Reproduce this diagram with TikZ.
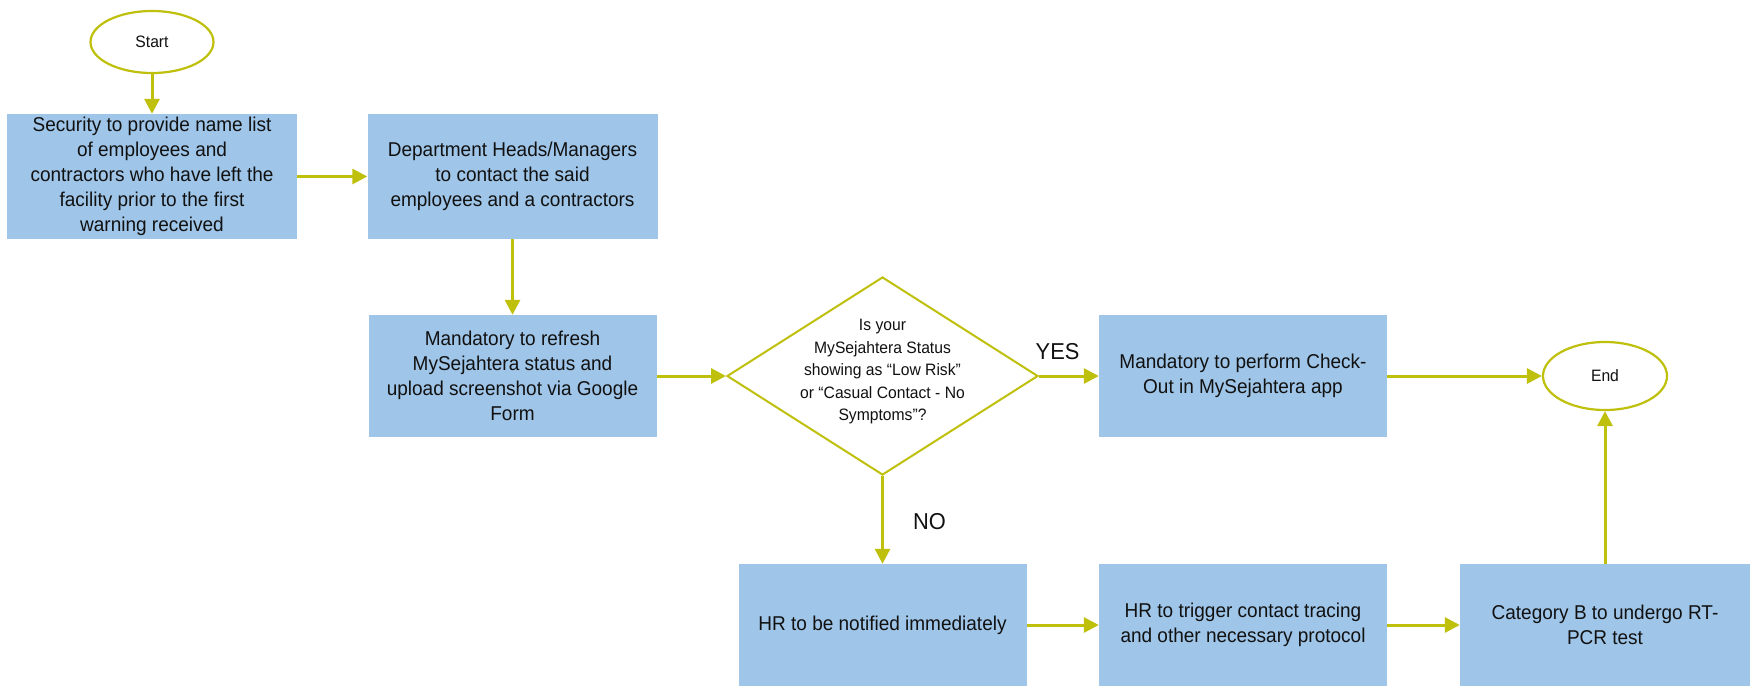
\documentclass[tikz,border=0pt]{standalone}
\usepackage{fontspec}
\setmainfont{Liberation Sans}[FakeStretch=0.95]
\usetikzlibrary{arrows.meta,shapes.geometric}
\definecolor{olivel}{RGB}{190,192,12}
\definecolor{boxblue}{RGB}{159,197,232}
\definecolor{txt}{RGB}{17,17,17}
\begin{document}
\begin{tikzpicture}[x=1pt,y=-1pt,
  boxn/.style={rectangle, fill=boxblue, minimum width=288pt, minimum height=122pt, inner sep=0pt,
    align=center, text=txt, font=\fontsize{20}{25}\selectfont},
  topbox/.style={boxn, minimum width=290pt, minimum height=125pt},
  term/.style={ellipse, draw=olivel, line width=2.2pt, fill=white, minimum width=123pt, minimum height=62pt,
    inner sep=0pt, text=txt, font=\fontsize{16.5}{20}\selectfont},
  dia/.style={diamond, draw=olivel, line width=2pt, minimum width=311pt, minimum height=198pt, inner sep=0pt},
  arr/.style={draw=olivel, line width=3pt, -{Triangle[length=15pt,width=15pt]}},
  lab/.style={text=txt, font=\fontsize{23}{27}\selectfont}
]
\useasboundingbox (0,0) rectangle (1750,686);

\node[term] (start) at (152,42) {Start};
\node[topbox] (b1) at (152,176.5) {Security to provide name list\\of employees and\\contractors who have left the\\facility prior to the first\\warning received};
\node[topbox] (b2) at (512.5,176.5) {Department Heads/Managers\\to contact the said\\employees and a contractors};
\node[boxn] (b3) at (512.5,376) {Mandatory to refresh\\MySejahtera status and\\upload screenshot via Google\\Form};
\node[dia] (dec) at (882.5,376) {};
\node[text=txt, align=center, font=\fontsize{16.5}{22.5}\selectfont] (dect) at (882.5,372) {Is your\\MySejahtera Status\\showing as “Low Risk”\\or “Casual Contact - No\\Symptoms”?};
\node[boxn] (b4) at (1243,376) {Mandatory to perform Check-\\Out in MySejahtera app};
\node[term, minimum width=124pt, minimum height=68pt] (end) at (1605,376) {End};
\node[boxn] (b5) at (882.5,625) {HR to be notified immediately};
\node[boxn] (b6) at (1243,625) {HR to trigger contact tracing\\and other necessary protocol};
\node[boxn, minimum width=290pt] (b7) at (1605,625) {Category B to undergo RT-\\PCR test};

\draw[arr] (start.south) -- (b1.north);
\draw[arr] (b1.east) -- (b2.west);
\draw[arr] (b2.south) -- (b3.north);
\draw[arr] (b3.east) -- (dec.west);
\draw[arr] (dec.east) -- node[lab, pos=0.31, yshift=24pt] (yes) {YES} (b4.west);
\draw[arr] (dec.south) -- node[lab, pos=0.52, xshift=47pt] (no) {NO} (b5.north);
\draw[arr] (b4.east) -- (end.west);
\draw[arr] (b5.east) -- (b6.west);
\draw[arr] (b6.east) -- (b7.west);
\draw[arr] (b7.north) -- (end.south);
\end{tikzpicture}
\end{document}
